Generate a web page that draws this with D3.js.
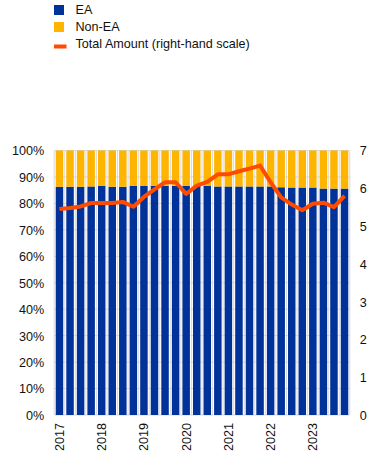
<html>
<head>
<meta charset="utf-8">
<script src="https://cdn.jsdelivr.net/npm/d3@7"></script>
<style>
  body { margin: 0; background: #fff; }
  text { font-family: "Liberation Sans", Arial, sans-serif; font-size: 12.6px; fill: #111; }
</style>
</head>
<body>
<div id="chart"></div>
<script>
// quarterly observations, 2017 Q1 - 2023 Q4
var quarters = [
  "2017Q1","2017Q2","2017Q3","2017Q4","2018Q1","2018Q2","2018Q3","2018Q4",
  "2019Q1","2019Q2","2019Q3","2019Q4","2020Q1","2020Q2","2020Q3","2020Q4",
  "2021Q1","2021Q2","2021Q3","2021Q4","2022Q1","2022Q2","2022Q3","2022Q4",
  "2023Q1","2023Q2","2023Q3","2023Q4"
];
var eaShare = [
  86.3, 86.3, 86.3, 86.4, 86.7, 86.3, 86.3, 86.7,
  86.7, 86.7, 86.7, 86.7, 86.7, 86.7, 86.7, 86.4,
  86.4, 86.4, 86.4, 86.4, 86.4, 86.1, 86.0, 86.0,
  86.0, 85.6, 85.6, 85.6
];
var nonEaShare = [
  13.7, 13.7, 13.7, 13.6, 13.3, 13.7, 13.7, 13.3,
  13.3, 13.3, 13.3, 13.3, 13.3, 13.3, 13.3, 13.6,
  13.6, 13.6, 13.6, 13.6, 13.6, 13.9, 14.0, 14.0,
  14.0, 14.4, 14.4, 14.4
];
var totalAmount = [
  5.45, 5.48, 5.52, 5.61, 5.61, 5.61, 5.64, 5.51,
  5.77, 5.97, 6.16, 6.16, 5.85, 6.07, 6.17, 6.37,
  6.37, 6.45, 6.52, 6.60, 6.16, 5.76, 5.57, 5.42,
  5.59, 5.62, 5.50, 5.80
];
var leftTicks = [0, 10, 20, 30, 40, 50, 60, 70, 80, 90, 100];
var rightTicks = [0, 1, 2, 3, 4, 5, 6, 7];
var legendItems = [
  { label: "EA", kind: "box", color: "#003299" },
  { label: "Non-EA", kind: "box", color: "#ffb400" },
  { label: "Total Amount (right-hand scale)", kind: "line", color: "#ff4b00" }
];

var W = 372, H = 455;
var plot = { left: 54.2, right: 349.8, top: 150.5, bottom: 415 };

var svg = d3.select("#chart").append("svg")
  .attr("width", W)
  .attr("height", H);

var x = d3.scaleBand()
  .domain(quarters)
  .range([plot.left, plot.right])
  .paddingInner(0.29)
  .paddingOuter(0.145);

var yPct = d3.scaleLinear().domain([0, 100]).range([plot.bottom, plot.top]);
var yAmt = d3.scaleLinear().domain([0, 7]).range([plot.bottom, plot.top]);

// grid: horizontal lines every 10%, vertical lines at each category boundary
svg.append("g").selectAll("line")
  .data(leftTicks)
  .enter().append("line")
  .attr("x1", plot.left).attr("x2", plot.right)
  .attr("y1", function(d) { return yPct(d); })
  .attr("y2", function(d) { return yPct(d); })
  .style("stroke", "#d9d9d9")
  .style("stroke-width", 1);

var step = x.step();
svg.append("g").selectAll("line")
  .data(d3.range(quarters.length + 1))
  .enter().append("line")
  .attr("x1", function(i) { return plot.left + i * step; })
  .attr("x2", function(i) { return plot.left + i * step; })
  .attr("y1", plot.top).attr("y2", plot.bottom)
  .style("stroke", "#d9d9d9")
  .style("stroke-width", 1);

// stacked bars
var rows = quarters.map(function(q, i) { return { q: q, ea: eaShare[i], nonEa: nonEaShare[i] }; });
var stacked = d3.stack().keys(["ea", "nonEa"])(rows);
var barColors = { ea: "#003299", nonEa: "#ffb400" };

svg.append("g").selectAll("g")
  .data(stacked)
  .enter().append("g")
  .style("fill", function(s) { return barColors[s.key]; })
  .selectAll("rect")
  .data(function(s) { return s; })
  .enter().append("rect")
  .attr("x", function(d) { return x(d.data.q); })
  .attr("width", x.bandwidth())
  .attr("y", function(d) { return yPct(d[1]); })
  .attr("height", function(d) { return yPct(d[0]) - yPct(d[1]); });

// total amount line
var line = d3.line()
  .x(function(d, i) { return x(quarters[i]) + x.bandwidth() / 2; })
  .y(function(d) { return yAmt(d); });

svg.append("path")
  .datum(totalAmount)
  .attr("d", line)
  .style("fill", "none")
  .style("stroke", "#ff4b00")
  .style("stroke-width", 4)
  .style("stroke-linejoin", "round");

// left axis
var leftAxis = d3.axisLeft(yPct)
  .tickValues(leftTicks)
  .tickSize(0)
  .tickPadding(10)
  .tickFormat(function(d) { return d + "%"; });
var gl = svg.append("g").attr("transform", "translate(" + plot.left + ",0)").call(leftAxis);
gl.select(".domain").remove();
gl.selectAll("text").attr("dy", ".35em").style("font-size", "12.6px").style("fill", "#111");

// right axis
var rightAxis = d3.axisRight(yAmt)
  .tickValues(rightTicks)
  .tickSize(0)
  .tickPadding(10)
  .tickFormat(d3.format("d"));
var gr = svg.append("g").attr("transform", "translate(" + plot.right + ",0)").call(rightAxis);
gr.select(".domain").remove();
gr.selectAll("text").attr("dy", ".35em").style("font-size", "12.6px").style("fill", "#111");

// year labels under the first quarter of each year
var xAxis = d3.axisBottom(x)
  .tickValues(quarters.filter(function(q) { return q.slice(4) === "Q1"; }))
  .tickSize(0)
  .tickFormat(function(q) { return q.slice(0, 4); });
var gx = svg.append("g").attr("transform", "translate(0," + plot.bottom + ")").call(xAxis);
gx.select(".domain").remove();
gx.selectAll("text")
  .attr("transform", "rotate(-90)")
  .attr("x", -8)
  .attr("y", 0)
  .attr("dy", ".35em")
  .style("text-anchor", "end")
  .style("font-size", "12.6px")
  .style("fill", "#111");

// legend
var legend = svg.append("g").selectAll("g")
  .data(legendItems)
  .enter().append("g")
  .attr("transform", function(d, i) { return "translate(54," + (10 + i * 17) + ")"; });

legend.filter(function(d) { return d.kind === "box"; })
  .append("rect")
  .attr("x", 0).attr("y", -5)
  .attr("width", 10).attr("height", 10)
  .style("fill", function(d) { return d.color; });

legend.filter(function(d) { return d.kind === "line"; })
  .append("rect")
  .attr("x", 0).attr("y", 0.5)
  .attr("width", 12.5).attr("height", 4)
  .style("fill", function(d) { return d.color; });

legend.append("text")
  .attr("x", 21.5)
  .attr("y", 0)
  .attr("dy", ".35em")
  .text(function(d) { return d.label; });
</script>
</body>
</html>
